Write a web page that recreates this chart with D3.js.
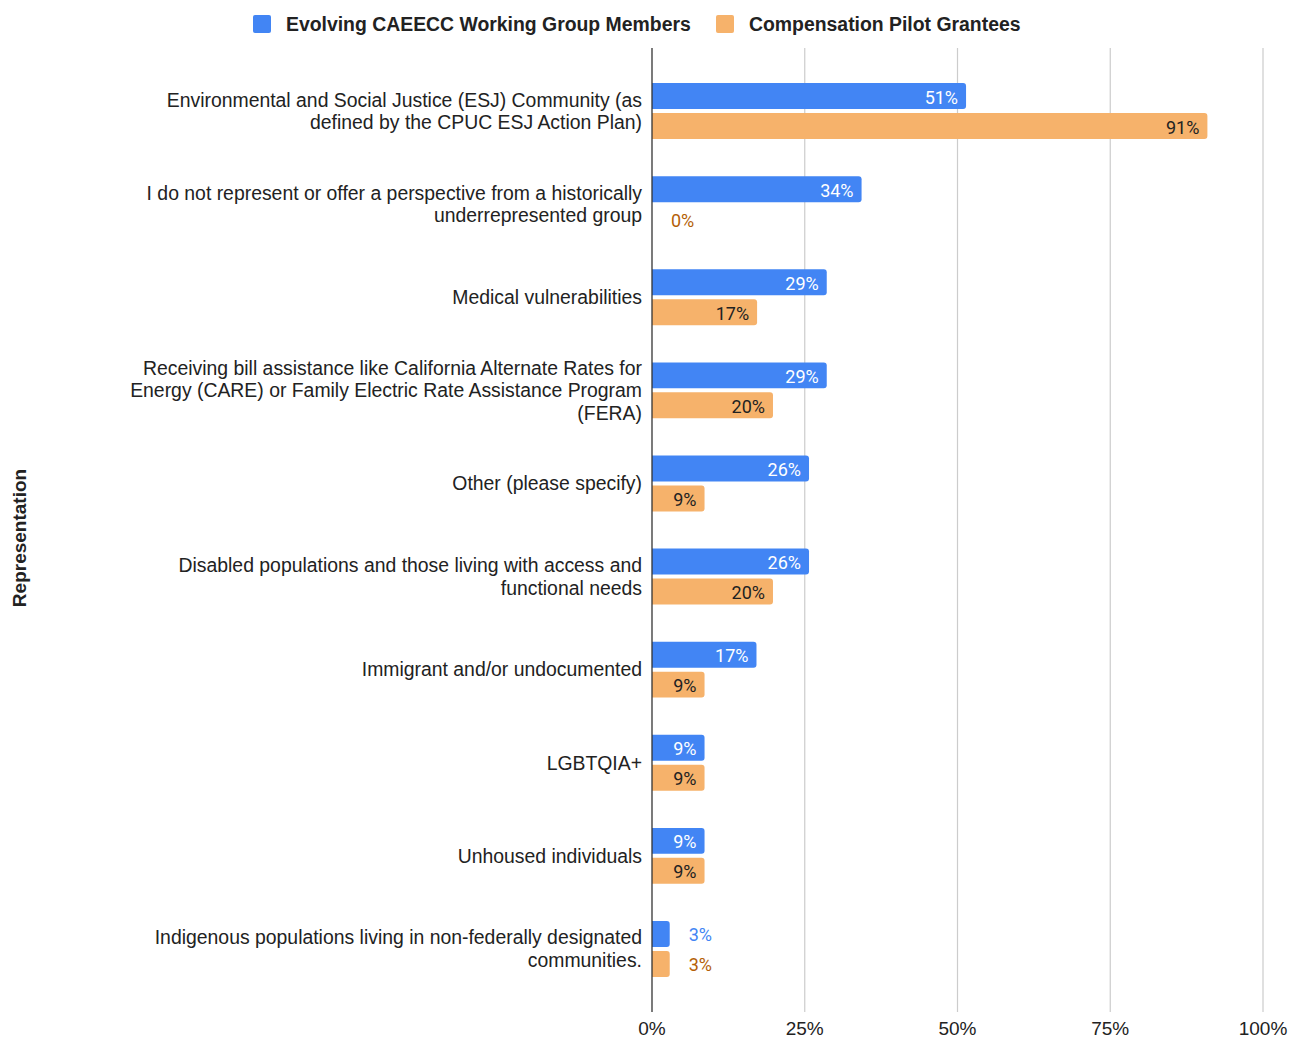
<!DOCTYPE html>
<html>
<head>
<meta charset="utf-8">
<script src="https://cdn.jsdelivr.net/npm/d3@7"></script>
<style>
  body { margin: 0; background: #fff; }
  svg { display: block; }
</style>
</head>
<body>
<div id="viz"></div>
<script>
// categories, top to bottom
var categories = [
  "Environmental and Social Justice (ESJ) Community (as defined by the CPUC ESJ Action Plan)",
  "I do not represent or offer a perspective from a historically underrepresented group",
  "Medical vulnerabilities",
  "Receiving bill assistance like California Alternate Rates for Energy (CARE) or Family Electric Rate Assistance Program (FERA)",
  "Other (please specify)",
  "Disabled populations and those living with access and functional needs",
  "Immigrant and/or undocumented",
  "LGBTQIA+",
  "Unhoused individuals",
  "Indigenous populations living in non-federally designated communities."
];
var seriesNames = ["Evolving CAEECC Working Group Members", "Compensation Pilot Grantees"];
var workingGroup = [0.514, 0.343, 0.286, 0.286, 0.257, 0.257, 0.171, 0.086, 0.086, 0.029];
var grantees = [0.909, 0, 0.172, 0.198, 0.086, 0.198, 0.086, 0.086, 0.086, 0.029];
var xTicks = [0, 0.25, 0.5, 0.75, 1];
var axisTitle = "Representation";

var colors = ["#4285f4", "#f6b26b"];
var outsideColors = ["#4285f4", "#b45f06"];
var insideColors = ["#ffffff", "#222222"];

var width = 1290, height = 1040;
var margin = {top: 48, right: 27, bottom: 28, left: 652};
var font = "Liberation Sans, Arial, sans-serif";
var fs = 19.4;

var svg = d3.select("#viz").append("svg")
  .attr("width", width)
  .attr("height", height);

var x = d3.scaleLinear()
  .domain([0, 1])
  .range([margin.left, width - margin.right]);

var y = d3.scaleBand()
  .domain(d3.range(categories.length))
  .range([64.5, 995.5])
  .paddingInner(0.4)
  .paddingOuter(0.2);

var ySub = d3.scaleBand()
  .domain([0, 1])
  .range([0, y.bandwidth()])
  .paddingInner(0.1333);

// gridlines
svg.append("g")
  .selectAll("line")
  .data(xTicks.slice(1))
  .join("line")
  .attr("x1", d => x(d))
  .attr("x2", d => x(d))
  .attr("y1", margin.top)
  .attr("y2", height - margin.bottom)
  .attr("stroke", "#cccccc")
  .attr("stroke-width", 1.2);

// tick labels
svg.append("g")
  .selectAll("text")
  .data(xTicks)
  .join("text")
  .attr("x", d => x(d))
  .attr("y", 1035)
  .attr("text-anchor", "middle")
  .attr("font-family", font)
  .attr("font-size", 19)
  .attr("fill", "#222")
  .text(d => d3.format(".0%")(d));

// bars with rounded right end
function barPath(x0, x1, yTop, h, r) {
  var w = x1 - x0;
  if (w <= 0) return "";
  r = Math.min(r, w, h / 2);
  return "M" + x0 + "," + yTop +
    "H" + (x1 - r) +
    "Q" + x1 + "," + yTop + " " + x1 + "," + (yTop + r) +
    "V" + (yTop + h - r) +
    "Q" + x1 + "," + (yTop + h) + " " + (x1 - r) + "," + (yTop + h) +
    "H" + x0 + "Z";
}

var rows = [];
categories.forEach(function(c, i) {
  rows.push({cat: i, s: 0, value: workingGroup[i]});
  rows.push({cat: i, s: 1, value: grantees[i]});
});

svg.append("g")
  .selectAll("path")
  .data(rows)
  .join("path")
  .attr("d", d => barPath(x(0), x(d.value), y(d.cat) + ySub(d.s), ySub.bandwidth(), 3))
  .attr("fill", d => colors[d.s]);

// data labels
var labels = svg.append("g")
  .selectAll("text")
  .data(rows)
  .join("text")
  .attr("font-family", "Roboto, sans-serif")
  .attr("font-size", 18)
  .attr("dominant-baseline", "central")
  .attr("y", d => y(d.cat) + ySub(d.s) + ySub.bandwidth() / 2 + 1)
  .text(d => Math.round(d.value * 100) + "%");

labels.each(function(d) {
  var t = d3.select(this);
  var tw = this.getComputedTextLength();
  var bw = x(d.value) - x(0);
  if (bw > tw + 14) {
    t.attr("x", x(d.value) - 8).attr("text-anchor", "end").attr("fill", insideColors[d.s]);
  } else {
    t.attr("x", x(d.value) + 19).attr("text-anchor", "start").attr("fill", outsideColors[d.s]);
  }
});

// axis line
svg.append("line")
  .attr("x1", x(0))
  .attr("x2", x(0))
  .attr("y1", margin.top)
  .attr("y2", height - margin.bottom)
  .attr("stroke", "#333")
  .attr("stroke-width", 1.3);

// category labels, wrapped
var catText = svg.append("g")
  .selectAll("text")
  .data(categories)
  .join("text")
  .attr("font-family", font)
  .attr("font-size", fs)
  .attr("fill", "#222")
  .attr("text-anchor", "end");

catText.each(function(c, i) {
  var t = d3.select(this);
  var words = c.split(" ");
  var lines = [];
  var line = [];
  var probe = t.append("tspan");
  words.forEach(function(w) {
    line.push(w);
    probe.text(line.join(" "));
    if (probe.node().getComputedTextLength() > 530 && line.length > 1) {
      line.pop();
      lines.push(line.join(" "));
      line = [w];
    }
  });
  lines.push(line.join(" "));
  probe.remove();
  var lh = 22.5;
  var cy = y(i) + y.bandwidth() / 2;
  var y0 = cy - (lines.length - 1) * lh / 2;
  lines.forEach(function(l, k) {
    t.append("tspan")
      .attr("x", 642)
      .attr("y", y0 + k * lh)
      .attr("dy", "0.35em")
      .text(l);
  });
});

// y axis title
svg.append("text")
  .attr("transform", "translate(26,538) rotate(-90)")
  .attr("text-anchor", "middle")
  .attr("font-family", font)
  .attr("font-size", 19)
  .attr("font-weight", "bold")
  .attr("fill", "#222")
  .text(axisTitle);

// legend
var legendX = [253, 716];
var legend = svg.append("g")
  .selectAll("g")
  .data(seriesNames)
  .join("g")
  .attr("transform", (d, i) => "translate(" + legendX[i] + ",15)");
legend.append("rect")
  .attr("width", 18)
  .attr("height", 18)
  .attr("rx", 2)
  .attr("fill", (d, i) => colors[i]);
legend.append("text")
  .attr("x", 33)
  .attr("y", 9)
  .attr("dy", "0.35em")
  .attr("font-family", font)
  .attr("font-size", fs)
  .attr("font-weight", "bold")
  .attr("fill", "#222")
  .text(d => d);
</script>
</body>
</html>
